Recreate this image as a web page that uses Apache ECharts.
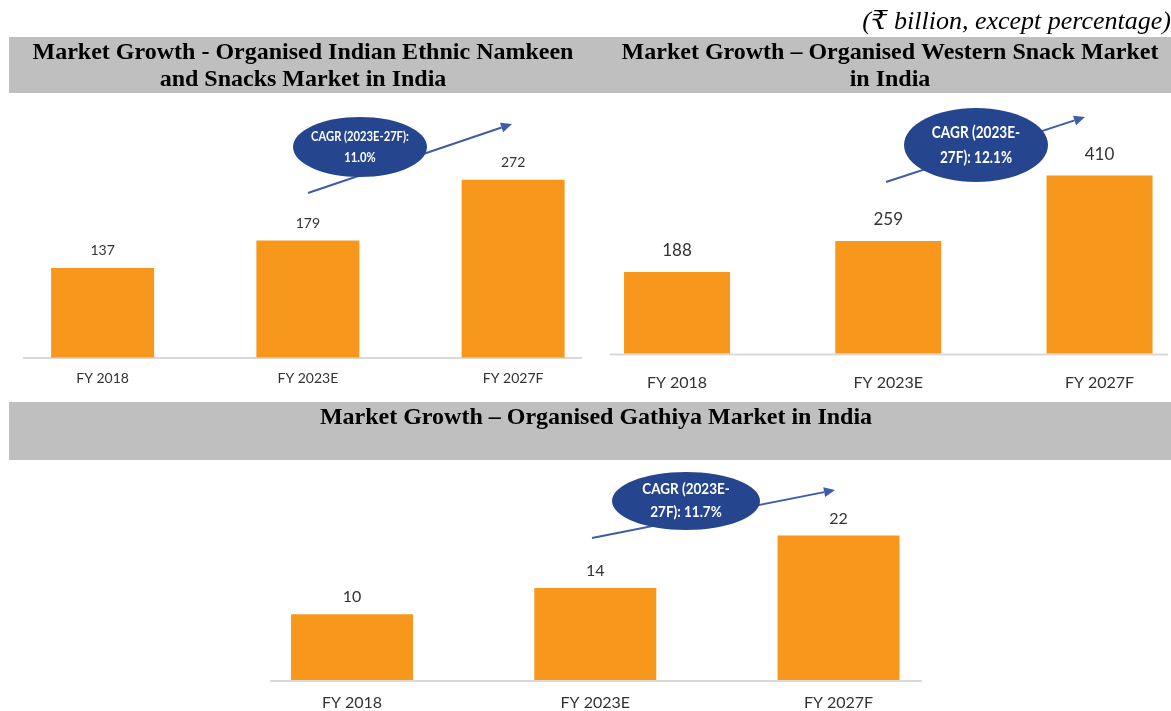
<!DOCTYPE html>
<html>
<head>
<meta charset="utf-8">
<script src="https://cdn.jsdelivr.net/npm/echarts@6/dist/echarts.min.js"></script>
<style>
  html, body { margin: 0; padding: 0; background: #ffffff; overflow: hidden; }
  #chart { width: 1260px; height: 711px; }
</style>
</head>
<body>
<div id="chart"></div>
<script>
// Market size by fiscal year (₹ billion)
const categories = ['FY 2018', 'FY 2023E', 'FY 2027F'];
const ethnicValues = [137, 179, 272];
const westernValues = [188, 259, 410];
const gathiyaValues = [10, 14, 22];

// Growth callouts
const ethnicCagr = ['CAGR (2023E-27F):', '11.0%'];
const westernCagr = ['CAGR (2023E-', '27F): 12.1%'];
const gathiyaCagr = ['CAGR (2023E-', '27F): 11.7%'];

const titles = {
  ethnic: ['Market Growth - Organised Indian Ethnic Namkeen', 'and Snacks Market in India'],
  western: ['Market Growth \u2013 Organised Western Snack Market', 'in India'],
  gathiya: ['Market Growth \u2013 Organised Gathiya Market in India']
};
const unitNote = '(\u20B9 billion, except percentage)';

const BAR = '#f7981d';
const LABEL = '#333333';
const GREY = '#bfbfbf';
const NAVY = '#25458f';
const ARROW = '#3f5ca8';
const SANS = 'Lato, "Open Sans", sans-serif';
const SERIF = '"Liberation Serif", "DejaVu Serif", serif';

// The canvas is a little wider than the page so the right panel's frame can overhang it
const chart = echarts.init(document.getElementById('chart'), null, { renderer: 'canvas' });

// Panel layout: grid frames, label sizes and offsets
const panels = [
  { grid: { left: 0, top: 96, width: 615.75, height: 261.5 }, max: 400, data: ethnicValues,
    barWidth: 103, valSize: 14, valDist: 10, catSize: 14, catMargin: 14 },
  { grid: { left: 571.4, top: 136.5, width: 633.75, height: 217 }, max: 500, data: westernValues,
    barWidth: 106, valSize: 17, valDist: 13, catSize: 16, catMargin: 21 },
  { grid: { left: 230.4, top: 483, width: 729.75, height: 197.5 }, max: 30, data: gathiyaValues,
    barWidth: 122, valSize: 16, valDist: 9, catSize: 16, catMargin: 15 }
];

function arrow(x1, y1, x2, y2) {
  const ang = Math.atan2(y2 - y1, x2 - x1);
  const len = 11, half = 5;
  const bx = x2 - len * Math.cos(ang), by = y2 - len * Math.sin(ang);
  const px = -Math.sin(ang) * half, py = Math.cos(ang) * half;
  return [
    { type: 'line', z: 10, shape: { x1: x1, y1: y1, x2: bx, y2: by },
      style: { stroke: ARROW, lineWidth: 2 } },
    { type: 'polygon', z: 10, shape: { points: [[x2, y2], [bx + px, by + py], [bx - px, by - py]] },
      style: { fill: ARROW } }
  ];
}

// Navy ellipse with two lines of condensed white text
function callout(cx, cy, rx, ry, lines, size, gap, squeeze) {
  const txt = (s, y) => ({ type: 'text', z: 12, x: cx, y: y, scaleX: squeeze,
    style: { text: s, fill: '#ffffff', font: 'bold ' + size + 'px ' + SANS,
             textAlign: 'center', textVerticalAlign: 'middle' } });
  return [
    { type: 'ellipse', z: 11, shape: { cx: cx, cy: cy, rx: rx, ry: ry }, style: { fill: NAVY } },
    txt(lines[0], cy - gap / 2),
    txt(lines[1], cy + gap / 2)
  ];
}

function titleText(x, y, text) {
  return { type: 'text', z: 5, x: x, y: y,
    style: { text: text, fill: '#000000', font: 'bold 24px ' + SERIF,
             textAlign: 'center', textVerticalAlign: 'middle' } };
}

function baseline(x1, x2, y) {
  return { type: 'line', z: 1, shape: { x1: x1, y1: y, x2: x2, y2: y },
           style: { stroke: '#d9d9d9', lineWidth: 2 } };
}

const graphics = [
  { type: 'rect', z: 0, shape: { x: 9, y: 37, width: 1162, height: 56 }, style: { fill: GREY } },
  { type: 'rect', z: 0, shape: { x: 9, y: 402, width: 1162, height: 58 }, style: { fill: GREY } },
  { type: 'text', z: 5, x: 1171, y: 22,
    style: { text: unitNote, fill: '#000000', font: 'italic 26px ' + SERIF,
             textAlign: 'right', textVerticalAlign: 'middle' } },
  titleText(303, 53, titles.ethnic[0]),
  titleText(303, 80, titles.ethnic[1]),
  titleText(890, 53, titles.western[0]),
  titleText(890, 80, titles.western[1]),
  titleText(596, 418, titles.gathiya[0]),
  baseline(23, 582, 358),
  baseline(610, 1168, 354.5),
  baseline(270, 922, 681)
].concat(
  arrow(308, 193, 512, 124),
  callout(360, 147, 67, 30, ethnicCagr, 13, 21, 0.86),
  arrow(886, 182, 1085, 117),
  callout(976, 145, 72, 37, westernCagr, 17, 25, 0.8),
  arrow(592, 538, 835, 490),
  callout(686, 501, 74, 29, gathiyaCagr, 15, 23, 0.9)
);

const option = {
  animation: false,
  backgroundColor: '#ffffff',
  grid: panels.map(p => Object.assign({ containLabel: false }, p.grid)),
  xAxis: panels.map((p, i) => ({
    type: 'category', gridIndex: i, data: categories,
    axisLine: { show: false }, axisTick: { show: false },
    axisLabel: { color: LABEL, fontFamily: SANS, fontSize: p.catSize, margin: p.catMargin }
  })),
  yAxis: panels.map((p, i) => ({
    type: 'value', gridIndex: i, min: 0, max: p.max, show: false, splitLine: { show: false }
  })),
  series: panels.map((p, i) => ({
    type: 'bar', xAxisIndex: i, yAxisIndex: i, data: p.data, barWidth: p.barWidth,
    itemStyle: { color: BAR },
    label: { show: true, position: 'top', distance: p.valDist, color: LABEL,
             fontFamily: SANS, fontSize: p.valSize }
  })),
  graphic: graphics
};

chart.setOption(option);
</script>
</body>
</html>
